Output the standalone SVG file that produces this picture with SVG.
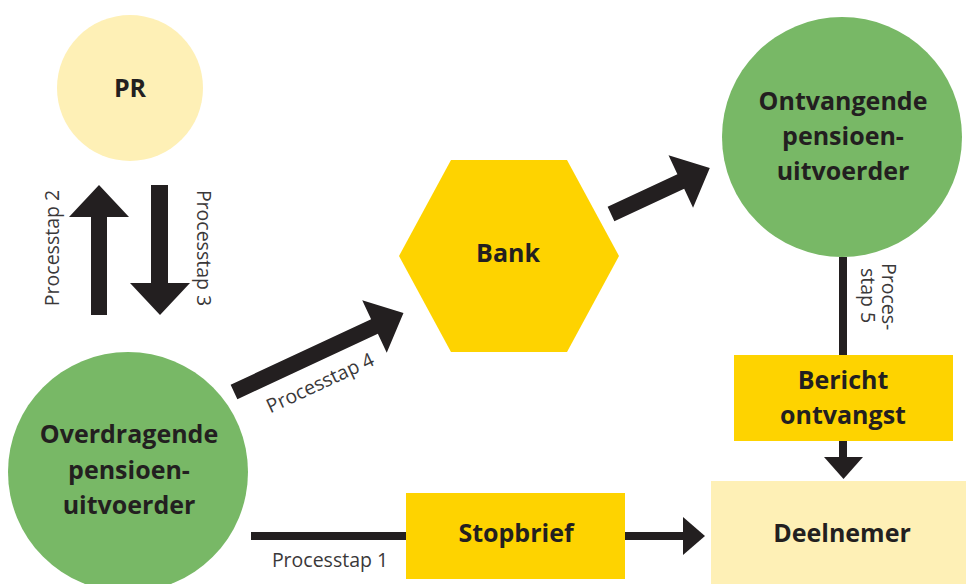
<svg xmlns="http://www.w3.org/2000/svg" width="966" height="584" viewBox="0 0 966 584">
<style>
.lbl{font-family:"Open Sans","Liberation Sans",sans-serif;font-weight:700;font-size:25px;fill:#231F20;text-anchor:middle}
.step{font-family:"Open Sans","Liberation Sans",sans-serif;font-weight:400;font-size:19.5px;fill:#3A3839}
.green{fill:#78B866}
.pale{fill:#FEF0B6}
.yel{fill:#FED300}
.ink{fill:#231F20}
.line{stroke:#231F20;stroke-width:8;fill:none}
</style>
<rect width="966" height="584" fill="#FFFFFF"/>
<g id="pr">
<circle class="pale" cx="130" cy="88" r="73"/>
<text class="lbl" x="130" y="97">PR</text>
</g>
<g id="overdragende">
<circle class="green" cx="128" cy="472" r="120"/>
<text class="lbl" x="129" y="443">Overdragende</text>
<text class="lbl" x="129" y="479">pensioen-</text>
<text class="lbl" x="129" y="514">uitvoerder</text>
</g>
<g id="bank">
<polygon class="yel" points="399,256 451,160 567,160 619,256 567,352 451,352"/>
<text class="lbl" x="508" y="262">Bank</text>
</g>
<g id="ontvangende">
<circle class="green" cx="842" cy="137" r="120"/>
<text class="lbl" x="843" y="110">Ontvangende</text>
<text class="lbl" x="843" y="145">pensioen-</text>
<text class="lbl" x="843" y="180">uitvoerder</text>
</g>
<g id="connectors">
<polygon class="ink" points="91,315 91,217 69,217 99,185 129,217 107,217 107,315"/>
<polygon class="ink" points="151,185 151,283 130,283 160,315 190,283 168,283 168,185"/>
<g transform="translate(234,392) rotate(-25)"><polygon class="ink" points="0,-8 155,-8 155,-29 187,0 155,29 155,8 0,8"/></g>
<g transform="translate(611,214) rotate(-25)"><polygon class="ink" points="0,-8 77,-8 77,-29 109,0 77,29 77,8 0,8"/></g>
<line class="line" x1="843" y1="257" x2="843" y2="356"/>
<line class="line" x1="843" y1="440" x2="843" y2="459"/>
<polygon class="ink" points="824,457 863,457 843.5,479"/>
<line class="line" x1="251" y1="536" x2="407" y2="536"/>
<line class="line" x1="624" y1="536" x2="686" y2="536"/>
<polygon class="ink" points="683,517 705,536 683,555"/>
<text class="step" transform="translate(59,248) rotate(-90)" text-anchor="middle">Processtap 2</text>
<text class="step" transform="translate(197,248) rotate(90)" text-anchor="middle">Processtap 3</text>
<text class="step" transform="translate(323,389) rotate(-25)" text-anchor="middle">Processtap 4</text>
<text class="step" transform="translate(882,263) rotate(90)">Proces-</text>
<text class="step" transform="translate(861,268) rotate(90)">stap 5</text>
<text class="step" x="330" y="567" text-anchor="middle">Processtap 1</text>
</g>
<g id="bericht">
<rect class="yel" x="734" y="355" width="219" height="86"/>
<text class="lbl" x="843" y="389">Bericht</text>
<text class="lbl" x="843" y="424">ontvangst</text>
</g>
<g id="stopbrief">
<rect class="yel" x="406" y="493" width="219" height="86"/>
<text class="lbl" x="516" y="542">Stopbrief</text>
</g>
<g id="deelnemer">
<rect class="pale" x="711" y="481" width="260" height="110"/>
<text class="lbl" x="842" y="542">Deelnemer</text>
</g>
</svg>
